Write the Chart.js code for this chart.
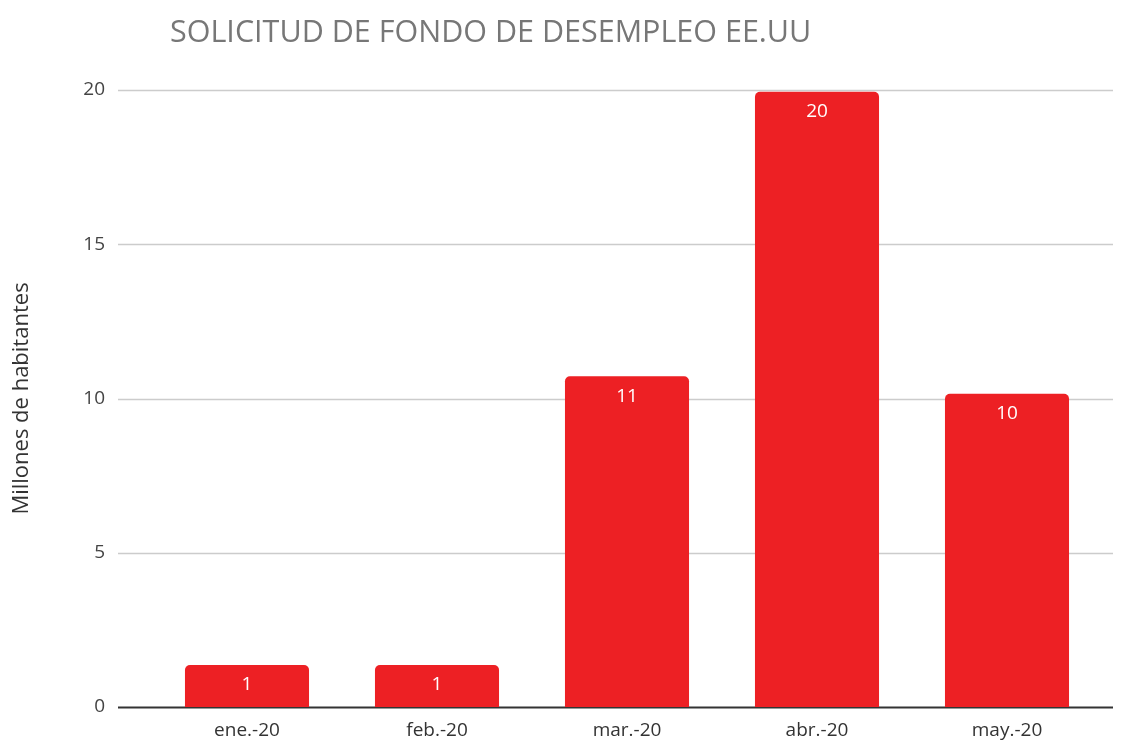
<!DOCTYPE html>
<html>
<head>
<meta charset="utf-8">
<script src="https://cdn.jsdelivr.net/npm/chart.js@4"></script>
<style>
  body { margin: 0; background: #fff; }
</style>
</head>
<body>
<canvas id="chart" width="1129" height="740"></canvas>
<script>
// data
const months = ['ene.-20', 'feb.-20', 'mar.-20', 'abr.-20', 'may.-20'];
const claims = [1.36, 1.36, 10.72, 19.94, 10.15];
const yTicks = [0, 5, 10, 15, 20];

const FONT = '"Open Sans", "Noto Sans", sans-serif';

// title, value labels and wide grid lines
const extras = {
  id: 'extras',
  beforeDatasetsDraw(chart) {
    const ctx = chart.ctx;
    const y = chart.scales.y;
    ctx.save();
    yTicks.forEach(v => {
      const py = Math.round(y.getPixelForValue(v)) + 0.5;
      ctx.beginPath();
      ctx.moveTo(118, py);
      ctx.lineTo(1113, py);
      ctx.strokeStyle = v === 0 ? '#333' : '#ccc';
      ctx.lineWidth = v === 0 ? 2 : 1.5;
      ctx.stroke();
    });
    ctx.restore();
  },
  afterDatasetsDraw(chart) {
    const ctx = chart.ctx;
    ctx.save();
    ctx.fillStyle = '#fff';
    ctx.font = '19px ' + FONT;
    ctx.textAlign = 'center';
    ctx.textBaseline = 'middle';
    chart.getDatasetMeta(0).data.forEach((bar, i) => {
      ctx.fillText(Math.round(claims[i]), bar.x, bar.y + 20);
    });
    ctx.fillStyle = '#777';
    ctx.font = '30.5px ' + FONT;
    ctx.textAlign = 'left';
    ctx.textBaseline = 'alphabetic';
    ctx.fillText('SOLICITUD DE FONDO DE DESEMPLEO EE.UU', 170, 42);
    ctx.restore();
  }
};

new Chart(document.getElementById('chart'), {
  type: 'bar',
  data: {
    labels: months,
    datasets: [{
      data: claims,
      backgroundColor: '#ed2024',
      borderRadius: { topLeft: 5, topRight: 5 },
      borderSkipped: 'bottom',
      categoryPercentage: 1,
      barPercentage: 0.653
    }]
  },
  options: {
    responsive: false,
    animation: false,
    layout: { padding: { top: 90, right: 27, left: 0, bottom: 0 } },
    plugins: {
      legend: { display: false },
      tooltip: { enabled: false },
      title: { display: false }
    },
    scales: {
      x: {
        grid: { display: false },
        border: { display: false },
        ticks: { color: '#333', font: { family: FONT, size: 19 }, padding: 4 },
        afterFit(scale) { scale.height = 33; }
      },
      y: {
        min: 0,
        max: 20,
        afterBuildTicks(scale) { scale.ticks = yTicks.map(v => ({ value: v })); },
        grid: { display: false },
        border: { display: false },
        ticks: { color: '#444', font: { family: FONT, size: 19 }, padding: 39 },
        title: {
          display: true,
          text: 'Millones de habitantes',
          color: '#333',
          font: { family: FONT, size: 22 },
          padding: { top: 9, bottom: 0 }
        },
        afterFit(scale) {
          scale.width = 152;
          scale.paddingTop = 0;
          scale.paddingBottom = 0;
        }
      }
    }
  },
  plugins: [extras]
});
</script>
</body>
</html>
